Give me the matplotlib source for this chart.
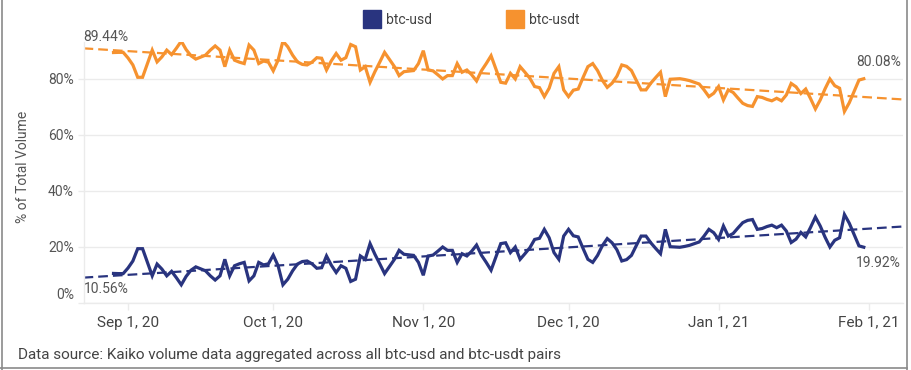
#%%
"""
BTC-USD vs BTC-USDT share of total volume, daily, with linear trend lines.
"""

#%%
import numpy as np
import pandas as pd
import matplotlib
matplotlib.use("Agg")
import matplotlib.pyplot as plt
import matplotlib.dates as mdates
from matplotlib import font_manager
from matplotlib.transforms import ScaledTranslation
from matplotlib.lines import Line2D

#%%
# Data, daily from Aug 29, 2020
start_date = "2020-08-29"
usd_share = [
    10.56, 10.5, 10.5, 12.5, 15.0, 19.4, 19.4, 14.5, 9.7, 13.9,
    12.1, 9.7, 11.3, 9.0, 6.5, 9.5, 11.7, 12.9, 12.2, 11.5,
    9.7, 8.2, 9.7, 15.6, 9.7, 13.3, 14.0, 14.5, 7.9, 9.7,
    14.5, 13.6, 14.0, 17.1, 13.3, 6.5, 8.5, 11.5, 13.9, 14.8,
    15.0, 14.0, 12.4, 12.6, 16.8, 13.5, 10.9, 13.3, 12.4, 7.7,
    8.5, 16.8, 15.6, 21.2, 17.4, 14.0, 10.5, 13.0, 15.5, 18.8,
    17.4, 17.2, 17.0, 14.5, 9.9, 16.8, 17.1, 18.5, 20.0, 18.8,
    18.8, 14.5, 17.6, 16.8, 18.5, 20.7, 17.1, 14.5, 11.7, 16.5,
    21.2, 21.5, 18.0, 20.0, 15.6, 17.6, 19.7, 22.7, 23.1, 26.3,
    23.3, 18.0, 15.6, 23.9, 26.3, 24.0, 23.6, 19.5, 15.6, 14.5,
    17.0, 20.5, 23.0, 21.5, 19.0, 15.0, 15.5, 17.0, 20.5, 23.9,
    23.9, 21.5, 19.5, 17.6, 26.3, 20.1, 20.0, 19.9, 20.2, 20.6,
    21.2, 21.8, 23.9, 26.3, 25.1, 22.7, 27.5, 23.9, 24.8, 26.8,
    28.7, 29.5, 29.8, 26.3, 26.6, 27.3, 27.8, 26.9, 27.8, 25.7,
    21.6, 22.8, 25.2, 23.6, 27.0, 30.7, 27.5, 23.5, 20.0, 22.4,
    23.3, 31.6, 28.5, 24.5, 20.4, 19.92,
]
usdt_share = [
    89.44, 89.5, 89.5, 87.5, 85.0, 80.6, 80.6, 85.5, 90.3, 86.1,
    87.9, 90.3, 88.7, 91.0, 93.5, 90.5, 88.3, 87.1, 87.8, 88.5,
    90.3, 91.8, 90.3, 84.4, 90.3, 86.7, 86.0, 85.5, 92.1, 90.3,
    85.5, 86.4, 86.0, 82.9, 86.7, 93.5, 91.5, 88.5, 86.1, 85.2,
    85.0, 86.0, 87.6, 87.4, 83.2, 86.5, 89.1, 86.7, 87.6, 92.3,
    91.5, 83.2, 84.4, 78.8, 82.6, 86.0, 89.5, 87.0, 84.5, 81.2,
    82.6, 82.8, 83.0, 85.5, 90.1, 83.2, 82.9, 81.5, 80.0, 81.2,
    81.2, 85.5, 82.4, 83.2, 81.5, 79.3, 82.9, 85.5, 88.3, 83.5,
    78.8, 78.5, 82.0, 80.0, 84.4, 82.4, 80.3, 77.3, 76.9, 73.7,
    76.7, 82.0, 84.4, 76.1, 73.7, 76.0, 76.4, 80.5, 84.4, 85.5,
    83.0, 79.5, 77.0, 78.5, 81.0, 85.0, 84.5, 83.0, 79.5, 76.1,
    76.1, 78.5, 80.5, 82.4, 73.7, 79.9, 80.0, 80.1, 79.8, 79.4,
    78.8, 78.2, 76.1, 73.7, 74.9, 77.3, 72.5, 76.1, 75.2, 73.2,
    71.3, 70.5, 70.2, 73.7, 73.4, 72.7, 72.2, 73.1, 72.2, 74.3,
    78.4, 77.2, 74.8, 76.4, 73.0, 69.3, 72.5, 76.5, 80.0, 77.6,
    76.7, 68.4, 71.5, 75.5, 79.6, 80.08,
]
series_names = ["btc-usd", "btc-usdt"]
tick_dates = ["2020-09-01", "2020-10-01", "2020-11-01", "2020-12-01", "2021-01-01", "2021-02-01"]
tick_labels = ["Sep 1, 20", "Oct 1, 20", "Nov 1, 20", "Dec 1, 20", "Jan 1, 21", "Feb 1, 21"]
y_ticks = [0, 20, 40, 60, 80]
source_note = "Data source: Kaiko volume data aggregated across all btc-usd and btc-usdt pairs"

#%%
# Style
NAVY = "#29347f"
ORANGE = "#f6922f"
GRID = "#ebebeb"
TEXT = "#555555"

installed = {f.name for f in font_manager.fontManager.ttflist}
narrow_font = "Liberation Sans Narrow" if "Liberation Sans Narrow" in installed else "Roboto"
plt.rcParams["font.family"] = ["Roboto", "DejaVu Sans"]
plt.rcParams["lines.scale_dashes"] = False

dates = pd.date_range(start_date, periods=len(usd_share), freq="D")
x_num = mdates.date2num(dates)

#%%
fig = plt.figure(figsize=(9.11, 3.70), dpi=100)
ax = fig.add_axes([83.5 / 911, 1 - 303 / 370, (903 - 83.5) / 911, (303 - 42) / 370])

x_left = mdates.date2num(pd.Timestamp("2020-09-01")) - 9.2
x_right = mdates.date2num(pd.Timestamp("2020-09-01")) + 160.1
ax.set_xlim(x_left, x_right)
ax.set_ylim(0, 93.2)

for values, color in [(usd_share, NAVY), (usdt_share, ORANGE)]:
    ax.plot(x_num, values, color=color, linewidth=2.3, solid_joinstyle="miter", zorder=3)
    # linear trend over the full x range
    slope, intercept = np.polyfit(x_num, values, 1)
    xs = np.array([x_left, x_right])
    ax.plot(xs, slope * xs + intercept, color=color, linewidth=1.6,
            dashes=(7, 3.6), zorder=2)

# First / last value labels
ytrans = ax.get_yaxis_transform()
ax.annotate(f"{usdt_share[0]:.2f}%", xy=(0, usdt_share[0]), xycoords=ytrans,
            xytext=(0, 6), textcoords="offset points", ha="left", va="bottom",
            fontsize=10, color=TEXT)
ax.annotate(f"{usd_share[0]:.2f}%", xy=(0, usd_share[0]), xycoords=ytrans,
            xytext=(0, -6), textcoords="offset points", ha="left", va="top",
            fontsize=10, color=TEXT)
ax.annotate(f"{usdt_share[-1]:.2f}%", xy=(1, usdt_share[-1]), xycoords=ytrans,
            xytext=(-1.5, 7), textcoords="offset points", ha="right", va="bottom",
            fontsize=10, color=TEXT)
ax.annotate(f"{usd_share[-1]:.2f}%", xy=(1, usd_share[-1]), xycoords=ytrans,
            xytext=(-1.5, -6), textcoords="offset points", ha="right", va="top",
            fontsize=10, color=TEXT)

# Axes cosmetics
ax.set_yticks(y_ticks)
ax.set_yticklabels([f"{v}%" for v in y_ticks])
ax.yaxis.grid(True, color=GRID, linewidth=1)
ax.set_axisbelow(True)
ax.tick_params(axis="y", length=4.5, width=1, color=GRID, pad=2.5,
               labelsize=10, labelcolor=TEXT)
ax.set_xticks(mdates.date2num(pd.to_datetime(tick_dates)))
ax.set_xticklabels(tick_labels, fontfamily=narrow_font)
ax.tick_params(axis="x", length=5, width=1, color=GRID, pad=4,
               labelsize=11, labelcolor="#444444")
for side in ["top", "right"]:
    ax.spines[side].set_visible(False)
for side in ["left", "bottom"]:
    ax.spines[side].set_color(GRID)
    ax.spines[side].set_linewidth(1)

# 0% label sits a little above the baseline
zero_label = ax.get_yticklabels()[0]
zero_label.set_transform(zero_label.get_transform()
                         + ScaledTranslation(0, 7 / 72, fig.dpi_scale_trans))

fig.text(23 / 911, 1 - 167 / 370, "% of Total Volume", rotation=90,
         ha="center", va="center", fontsize=10, color=TEXT)

# Legend at top
handles = [Line2D([], [], linestyle="none", marker="s", markersize=12.5,
                  markerfacecolor=c, markeredgecolor=c) for c in (NAVY, ORANGE)]
fig.legend(handles, series_names, loc="center", bbox_to_anchor=(472 / 911, 1 - 20 / 370),
           ncol=2, frameon=False, fontsize=10, handlelength=1.0, handletextpad=0.5,
           columnspacing=5.5, labelcolor="#444444")

fig.text(18 / 911, 1 - 355 / 370, source_note, ha="left", va="center",
         fontsize=11, color="#444444", fontfamily=narrow_font)

# Image frame
frame_kw = dict(color="#8a8a8a", linewidth=1.2, transform=fig.transFigure)
fig.add_artist(Line2D([1.5 / 911, 1.5 / 911], [0, 1], **frame_kw))
fig.add_artist(Line2D([907 / 911, 907 / 911], [0, 1], **frame_kw))
fig.add_artist(Line2D([0, 907 / 911], [2.5 / 370, 2.5 / 370], **frame_kw))

fig.savefig("out.png", dpi=100)
